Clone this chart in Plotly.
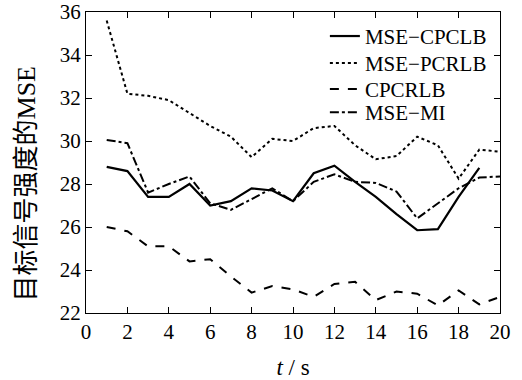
import plotly.graph_objects as go

t = list(range(1, 21))
mse_cpclb = [28.8, 28.6, 27.4, 27.4, 28.0, 27.0, 27.2, 27.8, 27.7, 27.2,
             28.5, 28.85, 28.1, 27.4, 26.6, 25.85, 25.9, 27.4, 28.75]
mse_pcrlb = [35.6, 32.2, 32.1, 31.9, 31.3, 30.7, 30.2, 29.25, 30.1, 30.0,
             30.6, 30.7, 29.8, 29.15, 29.3, 30.2, 29.8, 28.25, 29.6, 29.5]
cpcrlb = [26.0, 25.8, 25.1, 25.1, 24.4, 24.5, 23.7, 22.95, 23.25, 23.1,
          22.75, 23.35, 23.45, 22.6, 23.0, 22.9, 22.35, 23.05, 22.4, 22.75]
mse_mi = [30.05, 29.9, 27.6, 28.0, 28.35, 27.1, 26.8, 27.3, 27.8, 27.2,
          28.1, 28.45, 28.1, 28.05, 27.65, 26.4, 27.1, 27.8, 28.3, 28.35]

names = ["MSE\u2212CPCLB", "MSE\u2212PCRLB", "CPCRLB", "MSE\u2212MI"]
xticks = list(range(0, 21, 2))
yticks = list(range(22, 37, 2))

serif = "Liberation Serif"
fig = go.Figure()
fig.add_trace(go.Scatter(x=t[:len(mse_cpclb)], y=mse_cpclb, mode="lines", name=names[0],
                         legend="legend",
                         line=dict(color="black", width=2.2, dash="solid")))
fig.add_trace(go.Scatter(x=t, y=mse_pcrlb, mode="lines", name=names[1],
                         legend="legend2",
                         line=dict(color="black", width=2, dash="dot")))
fig.add_trace(go.Scatter(x=t, y=cpcrlb, mode="lines", name=names[2],
                         legend="legend3",
                         line=dict(color="black", width=2, dash="dash")))
fig.add_trace(go.Scatter(x=t, y=mse_mi, mode="lines", name=names[3],
                         legend="legend4",
                         line=dict(color="black", width=2, dash="dashdot")))

axis_common = dict(showgrid=False, zeroline=False, showline=True, linecolor="black",
                   linewidth=1.2, mirror="ticks", ticks="inside", ticklen=6,
                   tickcolor="black", tickwidth=1.2, automargin=False,
                   tickfont=dict(family=serif, size=21, color="black"))

def leg(y):
    return dict(x=0.577, y=y, xanchor="left", yanchor="middle",
                bgcolor="rgba(0,0,0,0)", font=dict(family=serif, size=21, color="black"))

fig.update_layout(
    width=522, height=380,
    margin=dict(l=86, r=22, t=12, b=67),
    paper_bgcolor="white", plot_bgcolor="white",
    xaxis=dict(range=[0, 20], tickvals=xticks, **axis_common,
               title=dict(text="<i>t</i> / s", font=dict(family=serif, size=23, color="black"),
                          standoff=16)),
    yaxis=dict(range=[22, 36], tickvals=yticks, **axis_common),
    legend=leg(0.919),
    legend2=leg(0.829),
    legend3=leg(0.743),
    legend4=leg(0.666),
    showlegend=True,
    annotations=[dict(
        text="目标信号强度的<span style='font-family:Liberation Serif'>MSE</span>",
        xref="paper", yref="paper", x=-0.15, y=0.43, xanchor="center", yanchor="middle",
        textangle=-90, showarrow=False,
        font=dict(family="Noto Sans CJK SC", size=26, color="black"))],
)

fig.write_html("out.html", config={"displayModeBar": False},
               post_script="document.body.style.margin='0';")
